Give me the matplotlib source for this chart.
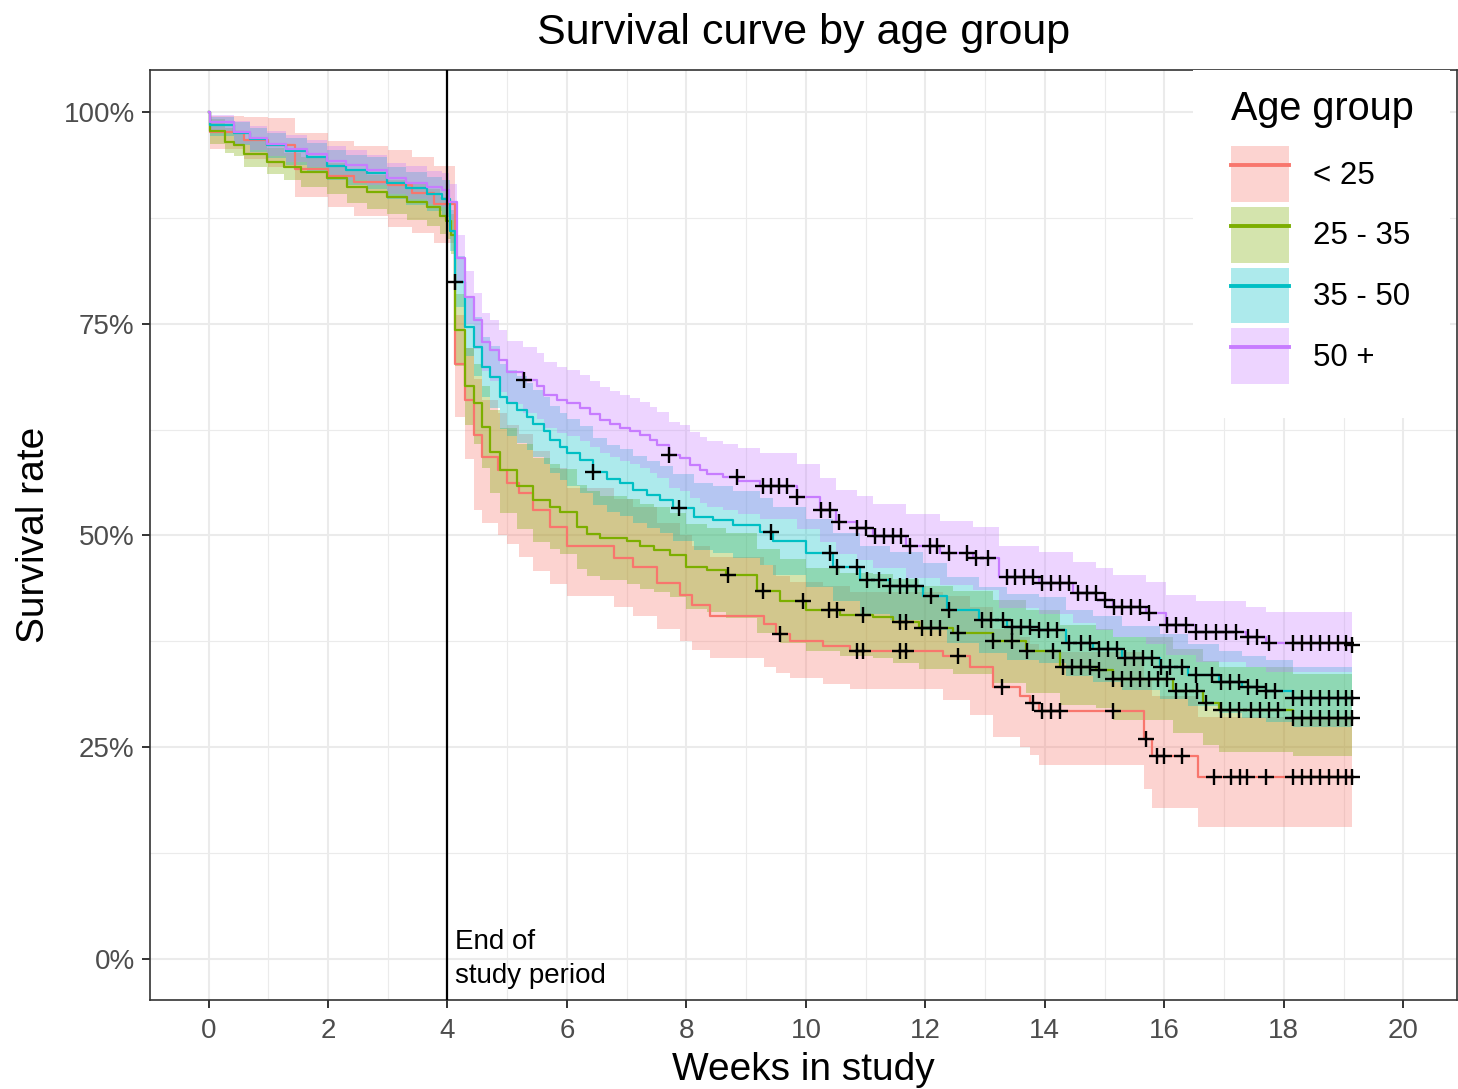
import numpy as np
import matplotlib
matplotlib.use("Agg")
import matplotlib.pyplot as plt
from matplotlib.patches import Patch, Rectangle
from matplotlib.lines import Line2D

plt.rcParams['font.family'] = ['Liberation Sans', 'DejaVu Sans']

# ---- data (Kaplan-Meier estimate + 95% band) ----
groups = ['< 25', '25 - 35', '35 - 50', '50 +']
colors = ['#F8766D', '#7CAE00', '#00BFC4', '#C77CFF']

red_t = [0, 0.03, 0.6, 1.0, 1.45, 2.0, 2.43, 3.0, 3.4, 3.77,
         4.13, 4.3, 4.44, 4.58, 4.85, 5.0, 5.2, 5.44, 5.72, 6.0,
         6.78, 7.11, 7.5, 7.89, 8.1, 8.4, 9.3, 9.5, 9.73, 10.28,
         10.74, 12.3, 12.74, 13.13, 13.58, 13.75, 13.9, 15.66, 15.8, 16.56, 19.15]
red_s = [1.0, 0.977, 0.967, 0.961, 0.933, 0.925, 0.918, 0.914, 0.905, 0.892,
         0.703, 0.660, 0.619, 0.593, 0.577, 0.562, 0.550, 0.530, 0.510, 0.487,
         0.473, 0.463, 0.444, 0.430, 0.418, 0.405, 0.395, 0.383, 0.375, 0.369,
         0.363, 0.357, 0.344, 0.321, 0.310, 0.302, 0.292, 0.259, 0.239, 0.215, 0.215]
red_lo = [1.0, 0.957, 0.945, 0.935, 0.900, 0.888, 0.878, 0.864, 0.857, 0.845,
          0.640, 0.590, 0.530, 0.515, 0.500, 0.490, 0.475, 0.458, 0.443, 0.428,
          0.415, 0.405, 0.390, 0.375, 0.365, 0.355, 0.345, 0.338, 0.332, 0.325,
          0.318, 0.305, 0.288, 0.262, 0.250, 0.240, 0.229, 0.200, 0.178, 0.156, 0.156]
red_hi = [1.0, 0.996, 0.994, 0.993, 0.975, 0.966, 0.960, 0.955, 0.947, 0.937,
          0.760, 0.722, 0.685, 0.660, 0.645, 0.630, 0.620, 0.600, 0.580, 0.556,
          0.543, 0.533, 0.515, 0.500, 0.488, 0.475, 0.465, 0.452, 0.445, 0.440,
          0.433, 0.428, 0.415, 0.390, 0.380, 0.372, 0.362, 0.330, 0.310, 0.285, 0.285]
red_cens = [9.57, 10.85, 10.95, 11.57, 11.68, 12.55, 13.28, 13.8, 13.95, 14.1, 14.25, 15.14,
            15.7, 15.87, 16.0, 16.29, 16.84, 17.12, 17.26, 17.39, 17.71,
            18.15, 18.3, 18.45, 18.6, 18.75, 18.9, 19.05, 19.15]

grn_t = [0, 0.02, 0.28, 0.42, 0.59, 0.98, 1.26, 1.54, 1.98, 2.32,
         2.65, 2.99, 3.32, 3.66, 3.88, 3.98, 4.06, 4.13, 4.3, 4.44,
         4.58, 4.72, 4.88, 5.16, 5.44, 5.72, 5.89, 6.17, 6.33, 6.55,
         7.0, 7.22, 7.45, 7.73, 8.0, 8.34, 8.67, 9.18, 9.57, 10.01,
         10.57, 11.12, 11.46, 11.9, 12.46, 13.13, 13.69, 14.25, 14.86, 15.14,
         16.14, 16.64, 16.92, 18.15, 19.15]
grn_s = [1.0, 0.978, 0.965, 0.961, 0.951, 0.941, 0.935, 0.929, 0.922, 0.912,
         0.906, 0.900, 0.894, 0.888, 0.878, 0.872, 0.855, 0.743, 0.676, 0.656,
         0.628, 0.599, 0.577, 0.558, 0.542, 0.534, 0.528, 0.510, 0.502, 0.497,
         0.493, 0.487, 0.483, 0.477, 0.463, 0.459, 0.453, 0.434, 0.422, 0.412,
         0.406, 0.404, 0.398, 0.391, 0.385, 0.375, 0.363, 0.345, 0.341, 0.330,
         0.316, 0.302, 0.294, 0.284, 0.284]
grn_lo = [1.0, 0.962, 0.952, 0.948, 0.935, 0.927, 0.920, 0.912, 0.904, 0.893,
          0.886, 0.880, 0.873, 0.866, 0.856, 0.850, 0.832, 0.700, 0.630, 0.608,
          0.580, 0.550, 0.527, 0.508, 0.492, 0.484, 0.478, 0.460, 0.452, 0.447,
          0.443, 0.437, 0.433, 0.427, 0.413, 0.409, 0.403, 0.385, 0.373, 0.363,
          0.357, 0.355, 0.349, 0.342, 0.336, 0.326, 0.314, 0.300, 0.296, 0.282,
          0.266, 0.252, 0.244, 0.239, 0.239]
grn_hi = [1.0, 0.992, 0.982, 0.978, 0.968, 0.958, 0.952, 0.947, 0.940, 0.931,
          0.926, 0.920, 0.915, 0.909, 0.900, 0.894, 0.880, 0.785, 0.722, 0.703,
          0.676, 0.648, 0.627, 0.608, 0.592, 0.584, 0.578, 0.560, 0.552, 0.547,
          0.543, 0.537, 0.533, 0.527, 0.513, 0.509, 0.503, 0.484, 0.472, 0.462,
          0.456, 0.454, 0.448, 0.440, 0.434, 0.424, 0.412, 0.394, 0.390, 0.380,
          0.366, 0.352, 0.344, 0.336, 0.336]
grn_cens = [8.7, 9.28, 9.95, 10.38, 10.52, 10.95, 11.57, 11.68, 11.95, 12.1, 12.24, 12.55,
            13.13, 13.45, 13.7, 14.13, 14.3, 14.45, 14.6, 14.75, 14.9, 15.14, 15.3, 15.45,
            15.6, 15.75, 15.9, 16.04, 16.2, 16.37, 16.55, 16.7, 16.95, 17.1, 17.25, 17.45,
            17.6, 17.75, 17.9, 18.15, 18.3, 18.45, 18.6, 18.75, 18.9, 19.05, 19.15]

tea_t = [0, 0.03, 0.42, 0.7, 0.98, 1.3, 1.65, 1.98, 2.3, 2.65,
         2.99, 3.3, 3.65, 3.9, 4.05, 4.13, 4.3, 4.44, 4.58, 4.72,
         4.88, 4.99, 5.16, 5.33, 5.44, 5.61, 5.72, 5.89, 6.0, 6.22,
         6.43, 6.67, 6.89, 7.11, 7.34, 7.56, 7.78, 8.12, 8.45, 8.78,
         9.23, 9.45, 10.01, 10.46, 10.9, 11.4, 11.96, 12.36, 12.9, 13.36,
         13.9, 14.36, 14.8, 15.3, 15.92, 16.4, 16.92, 17.3, 17.7, 18.15, 19.15]
tea_s = [1.0, 0.985, 0.975, 0.968, 0.961, 0.954, 0.947, 0.937, 0.932, 0.928,
         0.916, 0.910, 0.904, 0.898, 0.860, 0.800, 0.746, 0.723, 0.699, 0.687,
         0.664, 0.656, 0.648, 0.640, 0.632, 0.623, 0.613, 0.605, 0.597, 0.589,
         0.575, 0.567, 0.562, 0.554, 0.548, 0.542, 0.532, 0.522, 0.518, 0.512,
         0.504, 0.493, 0.479, 0.463, 0.447, 0.440, 0.428, 0.412, 0.400, 0.392,
         0.388, 0.373, 0.366, 0.355, 0.345, 0.335, 0.327, 0.321, 0.316, 0.308, 0.308]
tea_lo = [1.0, 0.972, 0.961, 0.953, 0.946, 0.938, 0.930, 0.920, 0.914, 0.909,
          0.897, 0.890, 0.883, 0.876, 0.836, 0.770, 0.712, 0.688, 0.663, 0.650,
          0.626, 0.617, 0.609, 0.601, 0.593, 0.584, 0.574, 0.566, 0.558, 0.550,
          0.536, 0.528, 0.523, 0.515, 0.509, 0.503, 0.493, 0.483, 0.479, 0.473,
          0.465, 0.453, 0.439, 0.423, 0.407, 0.400, 0.388, 0.373, 0.361, 0.353,
          0.349, 0.334, 0.327, 0.317, 0.307, 0.298, 0.290, 0.284, 0.279, 0.274, 0.274]
tea_hi = [1.0, 0.995, 0.988, 0.982, 0.976, 0.970, 0.964, 0.955, 0.950, 0.947,
          0.935, 0.930, 0.924, 0.920, 0.884, 0.830, 0.780, 0.758, 0.735, 0.724,
          0.702, 0.696, 0.688, 0.680, 0.672, 0.663, 0.653, 0.645, 0.637, 0.629,
          0.615, 0.607, 0.602, 0.594, 0.588, 0.582, 0.572, 0.562, 0.558, 0.552,
          0.544, 0.533, 0.519, 0.503, 0.487, 0.480, 0.468, 0.451, 0.439, 0.431,
          0.427, 0.412, 0.405, 0.393, 0.383, 0.372, 0.364, 0.358, 0.353, 0.345, 0.345]
tea_cens = [4.13, 6.43, 7.87, 9.41, 10.4, 10.52, 10.85, 11.02, 11.23, 11.4, 11.57, 11.7, 11.85,
            12.1, 12.4, 12.95, 13.1, 13.3, 13.45, 13.6, 13.75, 13.9, 14.05, 14.2, 14.4, 14.6,
            14.75, 14.9, 15.05, 15.2, 15.35, 15.5, 15.65, 15.8, 15.95, 16.1, 16.3, 16.53, 16.8,
            16.95, 17.1, 17.25, 17.4, 17.55, 17.7, 17.85, 18.15, 18.3, 18.45, 18.6, 18.75, 18.9,
            19.05, 19.15]

pur_t = [0, 0.03, 0.42, 0.7, 0.98, 1.3, 1.65, 1.98, 2.3, 2.65,
         2.99, 3.3, 3.65, 3.9, 4.02, 4.16, 4.3, 4.44, 4.58, 4.72,
         4.86, 4.99, 5.27, 5.5, 5.61, 5.83, 6.0, 6.22, 6.39, 6.56,
         6.72, 6.89, 7.06, 7.22, 7.39, 7.5, 7.71, 7.89, 8.06, 8.23,
         8.34, 8.62, 8.86, 9.23, 9.85, 10.23, 10.5, 10.85, 11.12, 11.68,
         12.24, 12.8, 13.24, 13.9, 14.47, 14.86, 15.14, 15.7, 16.03, 16.53,
         17.37, 17.7, 19.15]
pur_s = [1.0, 0.988, 0.977, 0.970, 0.963, 0.957, 0.951, 0.943, 0.938, 0.932,
         0.922, 0.917, 0.912, 0.908, 0.894, 0.828, 0.782, 0.754, 0.729, 0.719,
         0.707, 0.693, 0.684, 0.676, 0.666, 0.660, 0.656, 0.650, 0.644, 0.636,
         0.632, 0.627, 0.623, 0.619, 0.613, 0.607, 0.595, 0.591, 0.583, 0.577,
         0.573, 0.569, 0.564, 0.558, 0.545, 0.530, 0.516, 0.509, 0.499, 0.487,
         0.479, 0.473, 0.451, 0.444, 0.432, 0.424, 0.416, 0.408, 0.394, 0.386,
         0.380, 0.373, 0.371]
pur_lo = [1.0, 0.975, 0.963, 0.955, 0.948, 0.941, 0.935, 0.926, 0.920, 0.914,
          0.904, 0.898, 0.892, 0.888, 0.873, 0.800, 0.750, 0.720, 0.694, 0.683,
          0.670, 0.655, 0.645, 0.637, 0.627, 0.621, 0.617, 0.611, 0.605, 0.597,
          0.593, 0.588, 0.584, 0.580, 0.574, 0.568, 0.556, 0.552, 0.544, 0.538,
          0.534, 0.530, 0.525, 0.519, 0.507, 0.492, 0.478, 0.471, 0.461, 0.450,
          0.442, 0.436, 0.414, 0.407, 0.396, 0.388, 0.380, 0.372, 0.359, 0.351,
          0.345, 0.339, 0.337]
pur_hi = [1.0, 0.997, 0.990, 0.984, 0.978, 0.973, 0.967, 0.960, 0.956, 0.950,
          0.940, 0.936, 0.931, 0.928, 0.915, 0.855, 0.812, 0.787, 0.763, 0.754,
          0.743, 0.730, 0.723, 0.715, 0.705, 0.699, 0.695, 0.689, 0.683, 0.675,
          0.671, 0.666, 0.662, 0.658, 0.652, 0.646, 0.634, 0.630, 0.622, 0.616,
          0.612, 0.608, 0.603, 0.597, 0.584, 0.568, 0.554, 0.547, 0.537, 0.525,
          0.517, 0.510, 0.488, 0.481, 0.469, 0.461, 0.453, 0.445, 0.430, 0.422,
          0.416, 0.409, 0.408]
pur_cens = [5.28, 7.71, 8.85, 9.28, 9.42, 9.55, 9.68, 9.85, 10.25, 10.4, 10.55, 10.85, 11.0,
            11.15, 11.3, 11.45, 11.6, 11.75, 12.07, 12.2, 12.4, 12.7, 12.85, 13.05, 13.36, 13.5,
            13.65, 13.8, 13.95, 14.1, 14.25, 14.4, 14.55, 14.7, 14.85, 15.0, 15.15, 15.3, 15.45,
            15.6, 15.75, 16.05, 16.2, 16.37, 16.53, 16.7, 16.87, 17.03, 17.2, 17.4, 17.55, 17.75,
            18.15, 18.3, 18.45, 18.6, 18.75, 18.9, 19.05, 19.15]

series = [
    (red_t, red_s, red_lo, red_hi, red_cens),
    (grn_t, grn_s, grn_lo, grn_hi, grn_cens),
    (tea_t, tea_s, tea_lo, tea_hi, tea_cens),
    (pur_t, pur_s, pur_lo, pur_hi, pur_cens),
]

fig = plt.figure(figsize=(14.58, 10.89), dpi=100)
ax = fig.add_axes([150 / 1458, 1 - 1000 / 1089, 1307 / 1458, 930 / 1089])

# bands first, then lines, then censor marks
for (t, s, lo, hi, c), col in zip(series, colors):
    ax.fill_between(t, lo, hi, step='post', color=col, alpha=0.32, lw=0, zorder=2)
for (t, s, lo, hi, c), col in zip(series, colors):
    ax.step(t, s, where='post', color=col, lw=1.6, zorder=3)
for (t, s, lo, hi, c), col in zip(series, colors):
    t = np.array(t)
    s = np.array(s)
    idx = np.searchsorted(t, c, side='right') - 1
    ax.plot(c, s[idx], ls='none', marker='+', color='black', ms=11, mew=1.7, zorder=4)

ax.axvline(4, color='black', lw=1.6, zorder=5)
ax.text(4.13, 0.0, 'End of\nstudy period', fontsize=20, va='center', ha='left',
        linespacing=1.4, zorder=6)

ax.set_xlim(-0.98, 20.9)
ax.set_ylim(-0.049, 1.05)
ax.set_xticks(np.arange(0, 21, 2))
ax.set_xticks(np.arange(1, 21, 2), minor=True)
ax.set_yticks([0, 0.25, 0.5, 0.75, 1.0])
ax.set_yticks([0.125, 0.375, 0.625, 0.875], minor=True)
ax.set_yticklabels(['0%', '25%', '50%', '75%', '100%'])
ax.grid(which='major', color='#EBEBEB', lw=1.5, zorder=0)
ax.grid(which='minor', color='#EBEBEB', lw=0.8, zorder=0)
ax.set_axisbelow(True)
ax.tick_params(which='major', length=6, width=1.4, color='#333333', labelcolor='#4D4D4D',
               labelsize=20, pad=5)
ax.tick_params(axis='x', which='major', pad=7)
ax.tick_params(which='minor', length=0)
for sp in ax.spines.values():
    sp.set_color('#333333')
    sp.set_linewidth(1.2)

ax.set_xlabel('Weeks in study', fontsize=28, labelpad=6)
ax.set_ylabel('Survival rate', fontsize=28, labelpad=8)
ax.set_title('Survival curve by age group', fontsize=31, pad=19)

# white legend background inside the panel (covers the grid like ggplot's legend box)
ax.add_patch(Rectangle((0.798, 0.626), 0.1966, 0.374, transform=ax.transAxes,
                       facecolor='white', edgecolor='none', zorder=9))

handles = [(Patch(facecolor=col, alpha=0.32, lw=0), Line2D([], [], color=col, lw=2.8)) for col in colors]
leg = ax.legend(handles, groups, title='Age group', loc='upper left', bbox_to_anchor=(0.8118, 1.0),
                borderaxespad=0, fontsize=22.5, title_fontsize=28.5, frameon=False,
                handlelength=1.86, handleheight=2.36, labelspacing=0.16, handletextpad=0.75,
                borderpad=0.65, alignment='left')
leg._legend_box.sep = 13
leg.set_zorder(10)

fig.savefig('out.png', dpi=100)
